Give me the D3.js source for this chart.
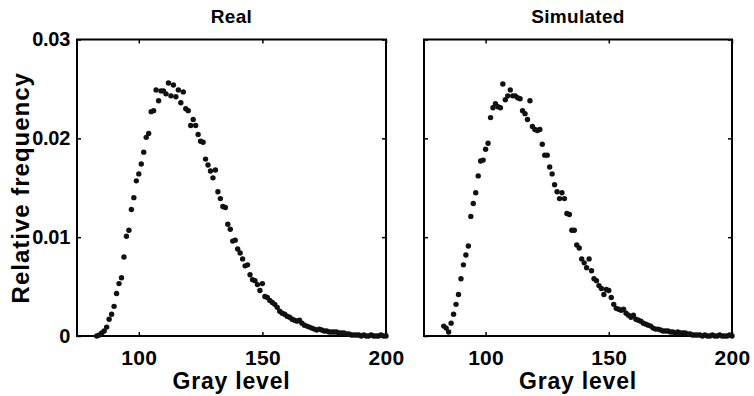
<!DOCTYPE html>
<html>
<head>
<meta charset="utf-8">
<script src="https://cdn.jsdelivr.net/npm/d3@7"></script>
<style>
  html, body { margin: 0; padding: 0; background: #fff; }
  svg { display: block; }
  text { font-family: "Liberation Sans", Arial, Helvetica, sans-serif; font-weight: bold; fill: #000; }
</style>
</head>
<body>
<svg id="chart" width="754" height="396"></svg>
<script>
// Gray-level histograms: measured image vs. simulated image
const grayLevels = d3.range(83, 201);

const realFreq = [
  0.0000, 0.0001, 0.0003, 0.0005, 0.0009, 0.0017, 0.0022, 0.0030, 0.0043, 0.0053, // 83-92
  0.0059, 0.0080, 0.0101, 0.0107, 0.0128, 0.0140, 0.0157, 0.0164, 0.0174, 0.0186, // 93-102
  0.0201, 0.0205, 0.0227, 0.0228, 0.0249, 0.0238, 0.0248, 0.0248, 0.0245, 0.0256, // 103-112
  0.0243, 0.0254, 0.0242, 0.0249, 0.0236, 0.0247, 0.0230, 0.0228, 0.0213, 0.0219, // 113-122
  0.0213, 0.0204, 0.0197, 0.0196, 0.0179, 0.0173, 0.0167, 0.0160, 0.0168, 0.0146, // 123-132
  0.0139, 0.0131, 0.0130, 0.0113, 0.0108, 0.0096, 0.0097, 0.0088, 0.0084, 0.0078, // 133-142
  0.0071, 0.0072, 0.0062, 0.0057, 0.0056, 0.0052, 0.0046, 0.0053, 0.0040, 0.0039, // 143-152
  0.0036, 0.0034, 0.0032, 0.0029, 0.0025, 0.0023, 0.0022, 0.0020, 0.0019, 0.0017, // 153-162
  0.0016, 0.0015, 0.0016, 0.0013, 0.0011, 0.0010, 0.0009, 0.0008, 0.0007, 0.0006, // 163-172
  0.0007, 0.0006, 0.0005, 0.0005, 0.0004, 0.0004, 0.0004, 0.0004, 0.0003, 0.0003, // 173-182
  0.0003, 0.0002, 0.0002, 0.0001, 0.0001, 0.0001, 0.0001, 0.0000, 0.0001, 0.0000, // 183-192
  0.0000, 0.0001, 0.0000, 0.0000, 0.0000, 0.0001, 0.0000, 0.0000                  // 193-200
];

const simulatedFreq = [
  0.0010, 0.0008, 0.0004, 0.0013, 0.0022, 0.0032, 0.0042, 0.0058, 0.0072, 0.0082, // 83-92
  0.0091, 0.0121, 0.0134, 0.0145, 0.0162, 0.0177, 0.0178, 0.0189, 0.0195, 0.0221, // 93-102
  0.0231, 0.0235, 0.0232, 0.0231, 0.0255, 0.0239, 0.0243, 0.0249, 0.0243, 0.0243, // 103-112
  0.0241, 0.0240, 0.0228, 0.0225, 0.0219, 0.0238, 0.0212, 0.0209, 0.0208, 0.0209, // 113-122
  0.0194, 0.0183, 0.0183, 0.0171, 0.0164, 0.0153, 0.0146, 0.0139, 0.0145, 0.0139, // 123-132
  0.0124, 0.0123, 0.0107, 0.0107, 0.0092, 0.0089, 0.0078, 0.0074, 0.0069, 0.0078, // 133-142
  0.0066, 0.0058, 0.0056, 0.0051, 0.0048, 0.0042, 0.0047, 0.0046, 0.0039, 0.0032, // 143-152
  0.0028, 0.0027, 0.0026, 0.0027, 0.0023, 0.0021, 0.0019, 0.0021, 0.0017, 0.0016, // 153-162
  0.0015, 0.0013, 0.0012, 0.0011, 0.0010, 0.0008, 0.0007, 0.0007, 0.0006, 0.0005, // 163-172
  0.0005, 0.0005, 0.0004, 0.0004, 0.0003, 0.0004, 0.0003, 0.0003, 0.0003, 0.0002, // 173-182
  0.0002, 0.0001, 0.0001, 0.0001, 0.0001, 0.0000, 0.0001, 0.0000, 0.0000, 0.0001, // 183-192
  0.0000, 0.0000, 0.0001, 0.0000, 0.0000, 0.0000, 0.0001, 0.0000                  // 193-200
];

const panelTitles = ["Real", "Simulated"];
const xTicks = [100, 150, 200];
const yTicks = [0, 0.01, 0.02, 0.03];
const xLabel = "Gray level";
const yLabel = "Relative frequency";

const svg = d3.select("#chart");

const panels = [
  { title: panelTitles[0], values: realFreq, left: 77, right: 386, showY: true },
  { title: panelTitles[1], values: simulatedFreq, left: 424, right: 732, showY: false }
];
const plotTop = 39.5, plotBottom = 336;

const y = d3.scaleLinear().domain([0, 0.03]).range([plotBottom, plotTop]);

panels.forEach(p => {
  const x = d3.scaleLinear().domain([75, 200]).range([p.left, p.right]);
  const g = svg.append("g");

  // bottom axis with labels, ticks pointing inward
  const xAxis = g.append("g").attr("transform", `translate(0,${plotBottom})`)
    .call(d3.axisBottom(x).tickValues(xTicks).tickSize(-4).tickPadding(14).tickFormat(d3.format("d")));
  // top axis: ticks only
  const xAxisTop = g.append("g").attr("transform", `translate(0,${plotTop})`)
    .call(d3.axisTop(x).tickValues(xTicks).tickSize(-4).tickFormat(""));
  // left axis
  const yAxis = g.append("g").attr("transform", `translate(${p.left},0)`)
    .call(d3.axisLeft(y).tickValues(yTicks).tickSize(-4).tickPadding(7)
      .tickFormat(p.showY ? (d => d === 0 ? "0" : d3.format(".2f")(d)) : ""));
  // right axis: ticks only
  const yAxisRight = g.append("g").attr("transform", `translate(${p.right},0)`)
    .call(d3.axisRight(y).tickValues(yTicks).tickSize(-4).tickFormat(""));

  [xAxis, xAxisTop, yAxis, yAxisRight].forEach(a => {
    a.select(".domain").remove();
    a.selectAll(".tick line").attr("stroke", "#000").attr("stroke-width", 1.5);
    a.selectAll("text").attr("fill", "#000");
  });
  xAxis.selectAll("text").attr("font-size", 21).attr("letter-spacing", 0.3);
  yAxis.selectAll("text").attr("font-size", 20).attr("letter-spacing", -0.3);

  // plot frame
  g.append("rect")
    .attr("x", p.left).attr("y", plotTop)
    .attr("width", p.right - p.left).attr("height", plotBottom - plotTop)
    .attr("fill", "none").attr("stroke", "#000").attr("stroke-width", 2);

  // histogram points
  g.append("g").selectAll("circle")
    .data(grayLevels.map((lv, i) => ({ lv, v: p.values[i] })))
    .join("circle")
    .attr("cx", d => x(d.lv))
    .attr("cy", d => y(d.v))
    .attr("r", 2.7)
    .attr("fill", "#111");

  // panel title
  g.append("text")
    .attr("x", (p.left + p.right) / 2).attr("y", 23)
    .attr("text-anchor", "middle").attr("font-size", 19)
    .attr("letter-spacing", 0.3)
    .text(p.title);

  // x-axis title
  g.append("text")
    .attr("x", (p.left + p.right) / 2).attr("y", 389)
    .attr("text-anchor", "middle").attr("font-size", 23)
    .attr("letter-spacing", 0.8)
    .text(xLabel);
});

// y-axis title
svg.append("text")
  .attr("transform", `translate(29,${(plotTop + plotBottom) / 2}) rotate(-90)`)
  .attr("text-anchor", "middle").attr("font-size", 24)
  .attr("letter-spacing", 1)
  .text(yLabel);
</script>
</body>
</html>
